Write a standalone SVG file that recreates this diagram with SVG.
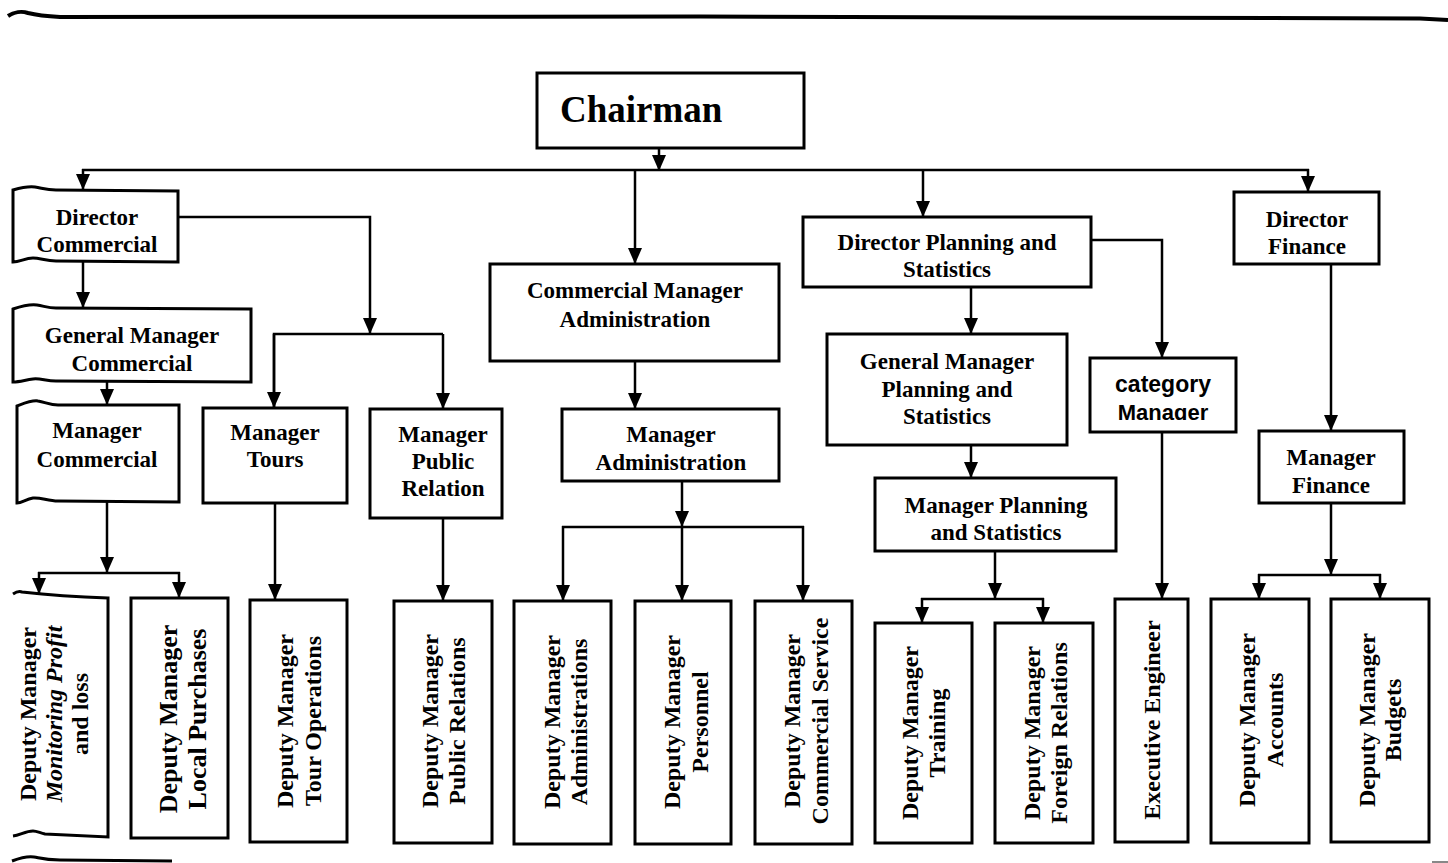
<svg xmlns="http://www.w3.org/2000/svg" width="1448" height="863" viewBox="0 0 1448 863">
<style>
.bx{fill:#fff;stroke:#000;stroke-width:3;stroke-linejoin:miter}
.op{fill:none;stroke:#000;stroke-width:3}
.t{font-family:"Liberation Serif","Times New Roman",serif;font-weight:bold;font-size:23px;text-anchor:middle;fill:#000}
.v{font-size:24px}
.s{font-family:"Liberation Sans",Arial,sans-serif;font-weight:bold;font-size:23px;text-anchor:middle;fill:#000}
.c line,.c path{stroke:#000;stroke-width:2.5;fill:none}
.a{marker-end:url(#ah)}
</style>
<defs>
<marker id="ah" markerUnits="userSpaceOnUse" markerWidth="16" markerHeight="16" viewBox="0 0 16 16" refX="16" refY="8" orient="auto"><path d="M0,1 L16,8 L0,15 z" fill="#000"/></marker>
<clipPath id="catclip"><rect x="1088" y="356" width="150" height="64"/></clipPath>
</defs>
<rect width="1448" height="863" fill="#fff"/>
<g id="frame">
<path d="M8,16 C14,12 22,11 28,13 C36,15 42,16 60,17 L700,16.5 L1420,18.5 L1448,20" fill="none" stroke="#000" stroke-width="4"/>
<path d="M12,861 C20,858 28,856 34,857 C40,858 44,860 60,860 L172,861" fill="none" stroke="#000" stroke-width="3"/>
<line x1="1432" y1="862" x2="1448" y2="862" stroke="#888" stroke-width="2"/>
</g>
<g class="c" id="connectors">
<line class="a" x1="659" y1="148" x2="659" y2="171"/>
<line x1="82" y1="170" x2="1309" y2="170"/>
<line class="a" x1="83" y1="169" x2="83" y2="190"/>
<line class="a" x1="635" y1="170" x2="635" y2="264"/>
<line class="a" x1="923" y1="170" x2="923" y2="217"/>
<line class="a" x1="1308" y1="169" x2="1308" y2="192"/>
<line class="a" x1="83" y1="262" x2="83" y2="308"/>
<path class="a" d="M178,217 L370,217 L370,334"/>
<path d="M274,409 L274,334 L443,334"/>
<line class="a" x1="274" y1="334" x2="274" y2="408"/>
<line class="a" x1="443" y1="334" x2="443" y2="409"/>
<line class="a" x1="107" y1="382" x2="107" y2="405"/>
<line class="a" x1="107" y1="502" x2="107" y2="573"/>
<line x1="38" y1="573" x2="180" y2="573"/>
<line class="a" x1="39" y1="572" x2="39" y2="594"/>
<line class="a" x1="179" y1="572" x2="179" y2="598"/>
<line class="a" x1="275" y1="503" x2="275" y2="600"/>
<line class="a" x1="443" y1="518" x2="443" y2="601"/>
<line class="a" x1="635" y1="361" x2="635" y2="409"/>
<line class="a" x1="682" y1="481" x2="682" y2="527"/>
<line x1="562" y1="527" x2="804" y2="527"/>
<line class="a" x1="563" y1="526" x2="563" y2="601"/>
<line class="a" x1="682" y1="527" x2="682" y2="601"/>
<line class="a" x1="803" y1="526" x2="803" y2="601"/>
<line class="a" x1="971" y1="287" x2="971" y2="334"/>
<path class="a" d="M1091,240 L1162,240 L1162,358"/>
<line class="a" x1="971" y1="445" x2="971" y2="478"/>
<line class="a" x1="995" y1="551" x2="995" y2="599"/>
<line x1="921" y1="599" x2="1044" y2="599"/>
<line class="a" x1="922" y1="598" x2="922" y2="623"/>
<line class="a" x1="1043" y1="598" x2="1043" y2="623"/>
<line class="a" x1="1162" y1="432" x2="1162" y2="599"/>
<line class="a" x1="1331" y1="264" x2="1331" y2="431"/>
<line class="a" x1="1331" y1="503" x2="1331" y2="575"/>
<line x1="1258" y1="575" x2="1381" y2="575"/>
<line class="a" x1="1259" y1="574" x2="1259" y2="599"/>
<line class="a" x1="1380" y1="574" x2="1380" y2="599"/>
</g>
<g id="chairman">
<rect class="bx" x="537" y="73" width="267" height="75" stroke-width="3.5"/>
<text class="t" x="560" y="122" style="font-size:37px;text-anchor:start">Chairman</text>
</g>
<g id="director-commercial">
<path class="bx" d="M13,190 C20,188 28,186 35,187 C42,188 46,190 56,190 L178,191 L178,262 L56,261 C46,261 40,258 33,258 C25,258 20,262 13,262 Z"/>
<text class="t" x="97" y="225">Director</text>
<text class="t" x="97" y="252">Commercial</text>
</g>
<g id="gm-commercial">
<path class="bx" d="M13,309 C22,306 30,304 37,305 C44,306 48,308 56,308 L251,309 L251,382 L56,381 C46,381 40,378 33,379 C25,380 20,382 13,382 Z"/>
<text class="t" x="132" y="343">General Manager</text>
<text class="t" x="132" y="371">Commercial</text>
</g>
<g id="manager-commercial">
<path class="bx" d="M17,406 C25,403 32,400 38,401 C45,402 50,405 58,405 L179,405 L179,502 L58,501 C48,501 40,497 33,498 C26,499 22,503 17,503 Z"/>
<text class="t" x="97" y="438">Manager</text>
<text class="t" x="97" y="467">Commercial</text>
</g>
<g id="manager-tours">
<rect class="bx" x="203" y="408" width="144" height="95"/>
<text class="t" x="275" y="440">Manager</text>
<text class="t" x="275" y="467">Tours</text>
</g>
<g id="manager-public-relation">
<rect class="bx" x="370" y="409" width="132" height="109"/>
<text class="t" x="443" y="442">Manager</text>
<text class="t" x="443" y="469">Public</text>
<text class="t" x="443" y="496">Relation</text>
</g>
<g id="commercial-manager-administration">
<rect class="bx" x="490" y="264" width="289" height="97"/>
<text class="t" x="635" y="298">Commercial Manager</text>
<text class="t" x="635" y="327">Administration</text>
</g>
<g id="manager-administration">
<rect class="bx" x="562" y="409" width="217" height="72"/>
<text class="t" x="671" y="442">Manager</text>
<text class="t" x="671" y="470">Administration</text>
</g>
<g id="director-planning">
<rect class="bx" x="803" y="217" width="288" height="70"/>
<text class="t" x="947" y="250">Director Planning and</text>
<text class="t" x="947" y="277">Statistics</text>
</g>
<g id="gm-planning">
<rect class="bx" x="827" y="334" width="240" height="111"/>
<text class="t" x="947" y="369">General Manager</text>
<text class="t" x="947" y="397">Planning and</text>
<text class="t" x="947" y="424">Statistics</text>
</g>
<g id="manager-planning">
<rect class="bx" x="875" y="478" width="241" height="73"/>
<text class="t" x="996" y="513">Manager Planning</text>
<text class="t" x="996" y="540">and Statistics</text>
</g>
<g id="category-manager">
<rect class="bx" x="1090" y="358" width="146" height="74"/>
<g clip-path="url(#catclip)">
<text class="s" x="1163" y="392">category</text>
<text class="s" x="1163" y="420" style="font-size:22px">Manager</text>
</g>
</g>
<g id="director-finance">
<rect class="bx" x="1234" y="192" width="145" height="72"/>
<text class="t" x="1307" y="227">Director</text>
<text class="t" x="1307" y="254">Finance</text>
</g>
<g id="manager-finance">
<rect class="bx" x="1259" y="431" width="145" height="72"/>
<text class="t" x="1331" y="465">Manager</text>
<text class="t" x="1331" y="493">Finance</text>
</g>
<g id="dm-monitoring">
<path class="op" d="M13,594 C16,592 19,591 22,592 C40,594 80,597 108,598 L108,837 L45,834 C40,833 37,831 33,831 C26,831 20,835 13,836"/>
<text class="t v" transform="translate(0,714) rotate(-90)"><tspan x="0" y="36">Deputy Manager</tspan><tspan x="0" y="62" font-style="italic">Monitoring Profit</tspan><tspan x="0" y="88">and loss</tspan></text>
</g>
<g id="dm-local-purchases">
<rect class="bx" x="131" y="598" width="97" height="240"/>
<text class="t" style="font-size:26px" transform="translate(0,719) rotate(-90)"><tspan x="0" y="177">Deputy Manager</tspan><tspan x="0" y="206">Local Purchases</tspan></text>
</g>
<g id="dm-tour-operations">
<rect class="bx" x="250" y="600" width="97" height="242"/>
<text class="t v" transform="translate(0,721) rotate(-90)"><tspan x="0" y="293">Deputy Manager</tspan><tspan x="0" y="321">Tour Operations</tspan></text>
</g>
<g id="dm-public-relations">
<rect class="bx" x="394" y="601" width="98" height="242"/>
<text class="t v" transform="translate(0,721) rotate(-90)"><tspan x="0" y="438">Deputy Manager</tspan><tspan x="0" y="465">Public Relations</tspan></text>
</g>
<g id="dm-administrations">
<rect class="bx" x="514" y="601" width="97" height="243"/>
<text class="t v" transform="translate(0,722) rotate(-90)"><tspan x="0" y="560">Deputy Manager</tspan><tspan x="0" y="587">Administrations</tspan></text>
</g>
<g id="dm-personnel">
<rect class="bx" x="635" y="601" width="96" height="243"/>
<text class="t v" transform="translate(0,722) rotate(-90)"><tspan x="0" y="680">Deputy Manager</tspan><tspan x="0" y="708">Personnel</tspan></text>
</g>
<g id="dm-commercial-service">
<rect class="bx" x="755" y="601" width="97" height="243"/>
<text class="t v" transform="translate(0,721) rotate(-90)"><tspan x="0" y="800">Deputy Manager</tspan><tspan x="0" y="828">Commercial Service</tspan></text>
</g>
<g id="dm-training">
<rect class="bx" x="875" y="623" width="97" height="220"/>
<text class="t v" transform="translate(0,733) rotate(-90)"><tspan x="0" y="918">Deputy Manager</tspan><tspan x="0" y="945">Training</tspan></text>
</g>
<g id="dm-foreign-relations">
<rect class="bx" x="995" y="623" width="98" height="220"/>
<text class="t v" transform="translate(0,733) rotate(-90)"><tspan x="0" y="1040">Deputy Manager</tspan><tspan x="0" y="1067">Foreign Relations</tspan></text>
</g>
<g id="executive-engineer">
<rect class="bx" x="1115" y="599" width="73" height="243"/>
<text class="t v" transform="translate(0,720) rotate(-90)"><tspan x="0" y="1160">Executive Engineer</tspan></text>
</g>
<g id="dm-accounts">
<rect class="bx" x="1211" y="599" width="98" height="244"/>
<text class="t v" transform="translate(0,720) rotate(-90)"><tspan x="0" y="1255">Deputy Manager</tspan><tspan x="0" y="1283">Accounts</tspan></text>
</g>
<g id="dm-budgets">
<rect class="bx" x="1331" y="599" width="98" height="243"/>
<text class="t v" transform="translate(0,720) rotate(-90)"><tspan x="0" y="1375">Deputy Manager</tspan><tspan x="0" y="1401">Budgets</tspan></text>
</g>
</svg>
